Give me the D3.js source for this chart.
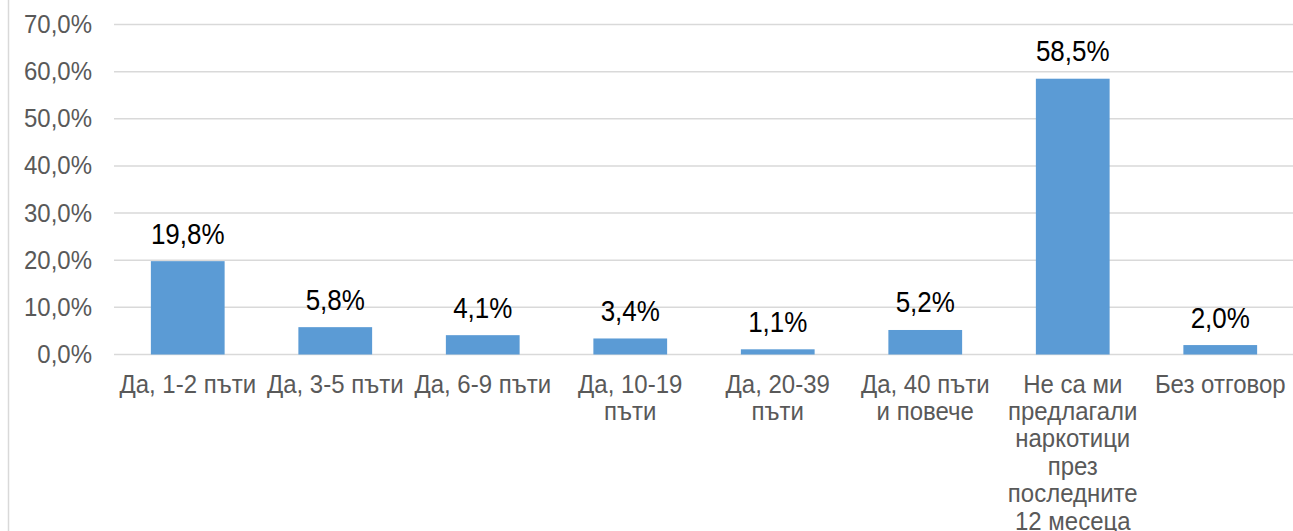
<!DOCTYPE html>
<meta charset="utf-8">
<script src="https://d3js.org/d3.v7.min.js"></script>
<style>
  body { margin: 0; background: #fff; }
  text { font-family: "Liberation Sans", Arial, sans-serif; }
</style>
<div id="my_dataviz"></div>
<script>
  // chart data
  var categories = [
    ["Да, 1-2 пъти"],
    ["Да, 3-5 пъти"],
    ["Да, 6-9 пъти"],
    ["Да, 10-19", "пъти"],
    ["Да, 20-39", "пъти"],
    ["Да, 40 пъти", "и повече"],
    ["Не са ми", "предлагали", "наркотици", "през", "последните", "12 месеца"],
    ["Без отговор"]
  ];
  var values = [19.8, 5.8, 4.1, 3.4, 1.1, 5.2, 58.5, 2.0];
  var yTicks = [0, 10, 20, 30, 40, 50, 60, 70];

  var width = 1293, height = 531;

  var svg = d3.select("#my_dataviz")
    .append("svg")
    .attr("width", width)
    .attr("height", height);

  // left frame line
  svg.append("line")
    .attr("x1", 8.5).attr("x2", 8.5)
    .attr("y1", 0).attr("y2", height)
    .attr("stroke", "#d9d9d9")
    .attr("stroke-width", 1.5);

  var x = d3.scaleBand()
    .domain(d3.range(categories.length))
    .range([114, 1294])
    .paddingInner(0.5)
    .paddingOuter(0.25);

  var y = d3.scaleLinear()
    .domain([0, 70])
    .range([354.5, 24.5]);

  // text is a bit taller than Arial in the reference
  var sy = 1.1;
  function place(px, py) {
    return "translate(" + px + "," + py + ") scale(1," + sy + ")";
  }

  // gridlines
  svg.selectAll("gridline")
    .data(yTicks)
    .enter()
    .append("line")
    .attr("x1", 114).attr("x2", 1294)
    .attr("y1", function (d) { return y(d); })
    .attr("y2", function (d) { return y(d); })
    .attr("stroke", "#d9d9d9")
    .attr("stroke-width", 1.5);

  // y tick labels
  svg.selectAll("ylabels")
    .data(yTicks)
    .enter()
    .append("text")
    .attr("transform", function (d) { return place(92, y(d) + 8.5); })
    .attr("text-anchor", "end")
    .style("font-size", "24px")
    .style("fill", "#595959")
    .text(function (d) { return d.toFixed(1).replace(".", ",") + "%"; });

  // bars
  svg.selectAll("bars")
    .data(values)
    .enter()
    .append("rect")
    .attr("x", function (d, i) { return x(i); })
    .attr("width", x.bandwidth())
    .attr("y", function (d) { return y(d); })
    .attr("height", function (d) { return y(0) - y(d); })
    .attr("fill", "#5b9bd5");

  // data labels
  svg.selectAll("vlabels")
    .data(values)
    .enter()
    .append("text")
    .attr("transform", function (d, i) { return place(x(i) + x.bandwidth() / 2, y(d) - 17.5); })
    .attr("text-anchor", "middle")
    .style("font-size", "26px")
    .style("fill", "#000")
    .text(function (d) { return d.toFixed(1).replace(".", ",") + "%"; });

  // category labels
  svg.selectAll("clabels")
    .data(categories)
    .enter()
    .append("g")
    .each(function (lines, i) {
      d3.select(this).selectAll("text")
        .data(lines)
        .enter()
        .append("text")
        .attr("transform", function (d, j) { return place(x(i) + x.bandwidth() / 2, 392.5 + j * 27.4); })
        .attr("text-anchor", "middle")
        .style("font-size", "24px")
        .style("fill", "#595959")
        .text(function (d) { return d; });
    });
</script>
